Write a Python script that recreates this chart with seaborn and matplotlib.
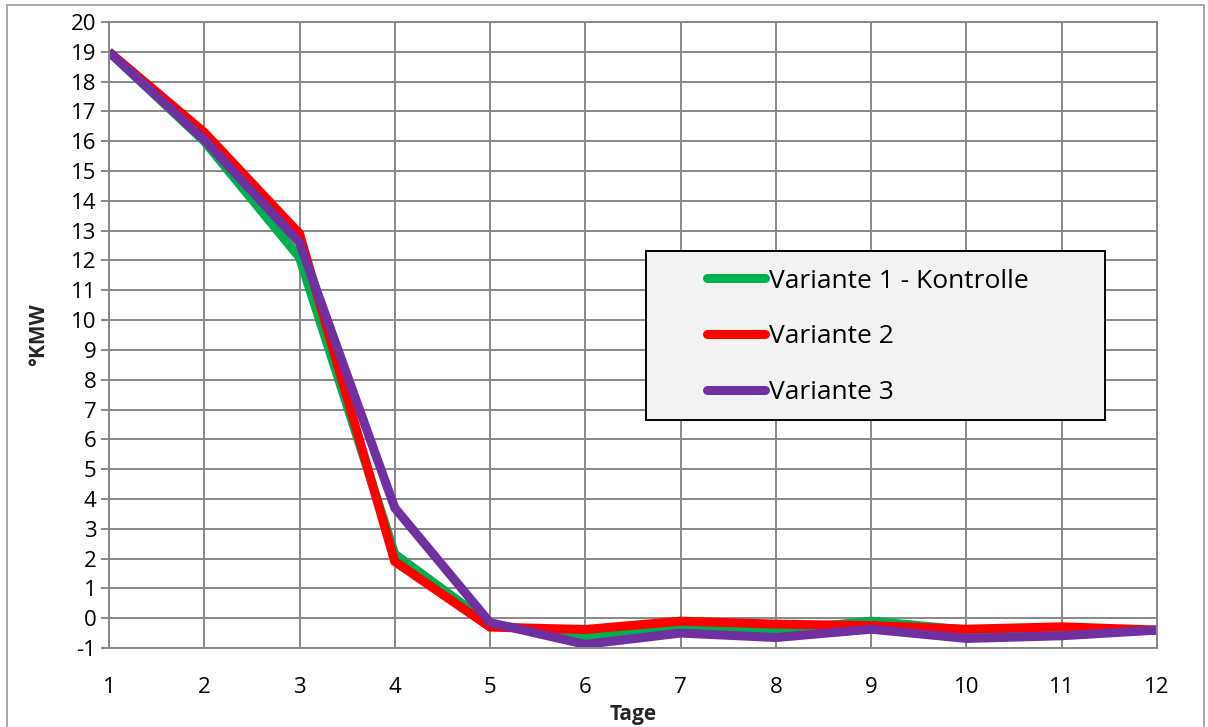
import numpy as np
import pandas as pd
import matplotlib
matplotlib.use("Agg")
import matplotlib.pyplot as plt
import seaborn as sns
from matplotlib.patches import Rectangle

# Werte
tage = [1, 2, 3, 4, 5, 6, 7, 8, 9, 10, 11, 12]
variante_1 = [19.0, 16.0, 12.1, 2.15, -0.2, -0.65, -0.3, -0.42, -0.1, -0.4, -0.4, -0.4]
variante_2 = [19.0, 16.3, 12.9, 1.9, -0.3, -0.38, -0.1, -0.2, -0.25, -0.37, -0.29, -0.4]
variante_3 = [19.0, 16.05, 12.6, 3.7, -0.15, -0.88, -0.5, -0.65, -0.37, -0.68, -0.59, -0.4]
namen = ["Variante 1 - Kontrolle", "Variante 2", "Variante 3"]
farben = ["#00b050", "#ff0000", "#7030a0"]

df = pd.DataFrame({
    "Tage": tage * 3,
    "KMW": variante_1 + variante_2 + variante_3,
    "Variante": [n for n in namen for _ in tage],
})

sns.set_theme(style="white")
plt.rcParams["font.family"] = ["Open Sans", "DejaVu Sans"]
plt.rcParams["axes.unicode_minus"] = False

fig = plt.figure(figsize=(12.08, 7.27), dpi=100)
ax = fig.add_axes([0.0902, 0.1087, 0.8676, 0.8610])

sns.lineplot(data=df, x="Tage", y="KMW", hue="Variante", palette=farben,
             linewidth=6.5, ax=ax, legend=False, solid_joinstyle="miter",
             solid_capstyle="butt")

grau = "#888888"
ax.set_xlim(1, 12)
ax.set_ylim(-1, 20)
ax.set_xticks(range(1, 13))
ax.set_yticks(range(-1, 21))
ax.grid(True, color=grau, linewidth=1.4)
ax.set_axisbelow(True)
for s in ax.spines.values():
    s.set_color(grau)
    s.set_linewidth(1.4)
ax.tick_params(axis="y", length=6, width=1.4, color=grau, labelsize=16, pad=3, left=True)
ax.tick_params(axis="x", length=0, labelsize=16, pad=21, bottom=False)
for lab in ax.get_xticklabels() + ax.get_yticklabels():
    lab.set_color("black")

ax.set_xlabel("Tage", fontsize=15, fontweight="bold", labelpad=4)
ax.set_ylabel("°KMW", fontsize=15, fontweight="bold", labelpad=16)

# Legendenkasten
ax.add_patch(Rectangle((0.512, 0.364), 0.438, 0.27, transform=ax.transAxes,
                       facecolor="#f2f2f2", edgecolor="black", linewidth=1.4, zorder=5))
handles = [plt.Line2D([], [], color=c, linewidth=6.5, solid_capstyle="round") for c in farben]
leg = ax.legend(handles, namen, loc="center left", bbox_to_anchor=(0.571, 0.497),
                fontsize=19, frameon=False, handlelength=2.2, handletextpad=0.12,
                labelspacing=1.17, borderpad=0, borderaxespad=0)
leg.set_zorder(6)
for t in leg.get_texts():
    t.set_color("black")

# Rahmen um die ganze Grafik
fig.patches.append(Rectangle((7 / 1208, -0.01), 1197 / 1208, 1.01 - 5 / 727,
                             transform=fig.transFigure, fill=False,
                             edgecolor="#a6a6a6", linewidth=1.4))

fig.savefig("out.png", dpi=100)
